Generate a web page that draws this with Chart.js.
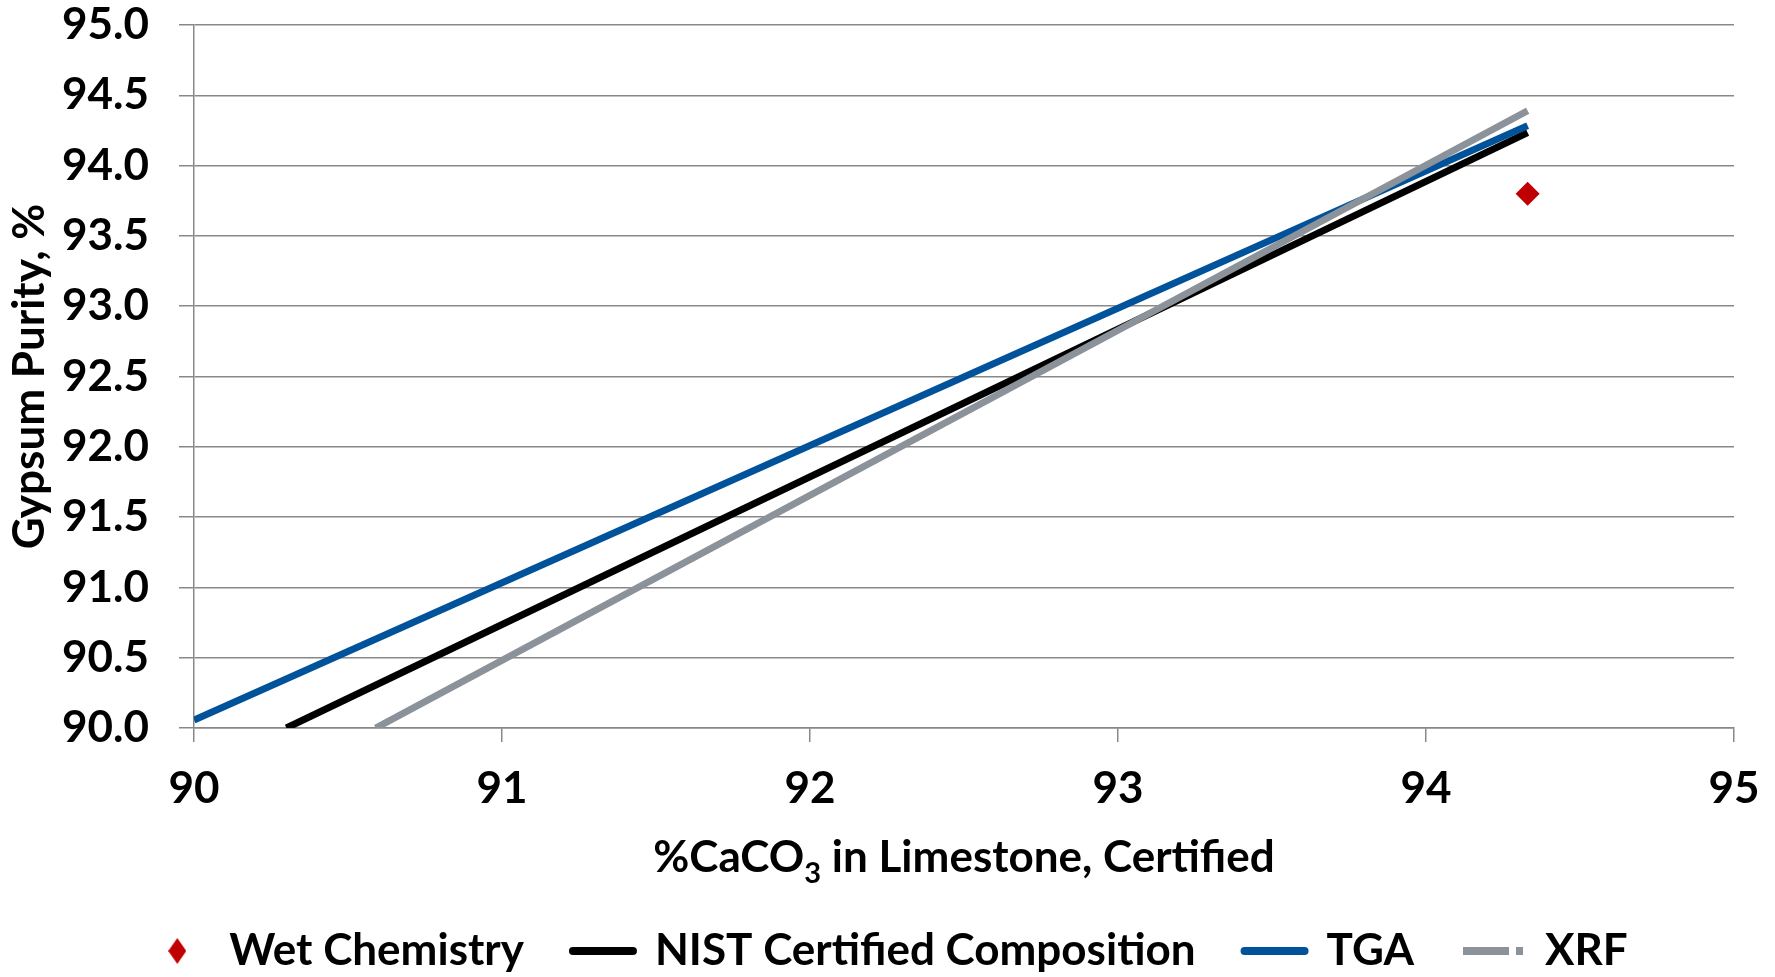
<!DOCTYPE html>
<html>
<head>
<meta charset="utf-8">
<script src="https://cdn.jsdelivr.net/npm/chart.js@4"></script>
<style>
  html, body { margin: 0; padding: 0; background: #ffffff; }
  #wrap { width: 1775px; height: 977px; position: relative; }
</style>
</head>
<body>
<div id="wrap"><canvas id="c" width="1775" height="977"></canvas></div>
<script>
// ---- data ----
const wetX = [94.33];
const wetY = [93.80];
const nistX = [90.30, 94.33];
const nistY = [90.00, 94.234];
const tgaX = [90.00, 94.33];
const tgaY = [90.057, 94.284];
const xrfX = [90.59, 94.33];
const xrfY = [90.00, 94.39];
const seriesNames = ['Wet Chemistry', 'NIST Certified Composition', 'TGA', 'XRF'];
const xTicks = [90, 91, 92, 93, 94, 95];
const yTicks = [90.0, 90.5, 91.0, 91.5, 92.0, 92.5, 93.0, 93.5, 94.0, 94.5, 95.0];
const xTitleParts = ['%CaCO', '3', ' in Limestone, Certified'];
const yTitle = 'Gypsum Purity, %';

const toPts = (xs, ys) => xs.map((x, i) => ({x: x, y: ys[i]}));

// ---- styling / layout ----
const FONT = 'Lato';
const FS = 44;
const LEG_P = 49;
const PLOT_TOP = 25, PLOT_BOTTOM = 728, CANVAS_W = 1775, CANVAS_H = 977, LEGEND_MID = 951;
const RED = '#c00000', BLACK = '#000000', BLUE = '#00529b', GRAY = '#8b9299';
const GRID = '#888888';

// diamond marker used for the legend entry of the point series
const legendDiamond = (() => {
  const c = document.createElement('canvas');
  c.width = 18; c.height = 26;
  const g = c.getContext('2d');
  g.fillStyle = RED;
  g.beginPath();
  g.moveTo(9, 0); g.lineTo(18, 13); g.lineTo(9, 26); g.lineTo(0, 13);
  g.closePath(); g.fill();
  return c;
})();

const xTitlePlugin = {
  id: 'xTitleSub',
  afterDraw(chart) {
    const ctx = chart.ctx;
    const area = chart.chartArea;
    const big = 'bold ' + FS + 'px ' + FONT;
    const small = 'bold 29px ' + FONT;
    ctx.save();
    ctx.fillStyle = '#000';
    ctx.textBaseline = 'alphabetic';
    ctx.font = big;
    const w0 = ctx.measureText(xTitleParts[0]).width;
    const w2 = ctx.measureText(xTitleParts[2]).width;
    ctx.font = small;
    const w1 = ctx.measureText(xTitleParts[1]).width;
    const total = w0 + w1 + w2;
    let x = (area.left + area.right) / 2 - total / 2;
    const base = area.bottom + 144;
    ctx.font = big; ctx.textAlign = 'left';
    ctx.fillText(xTitleParts[0], x, base); x += w0;
    ctx.font = small;
    ctx.fillText(xTitleParts[1], x, base + 11); x += w1;
    ctx.font = big;
    ctx.fillText(xTitleParts[2], x, base);
    ctx.restore();
  }
};

// place the library legend row at the reference height, centred on the page
const legendPlace = {
  id: 'legendPlace',
  afterLayout(chart) {
    const lg = chart.legend;
    if (!lg) return;
    const h = lg.height;
    const top = LEGEND_MID - LEG_P - FS / 2;
    lg.top = top; lg.bottom = top + h;
    lg.left = 0; lg.right = CANVAS_W;
  }
};

const legendOrder = [0, 3, 2, 1]; // dataset index -> legend position

new Chart(document.getElementById('c'), {
  type: 'scatter',
  data: {
    datasets: [
      { label: seriesNames[0], data: toPts(wetX, wetY), showLine: false,
        pointStyle: 'rectRot', pointRadius: 12, pointHoverRadius: 12,
        backgroundColor: RED, borderColor: RED, borderWidth: 0 },
      { label: seriesNames[3], data: toPts(xrfX, xrfY), showLine: true,
        borderColor: GRAY, backgroundColor: GRAY, borderWidth: 7, pointRadius: 0, pointHoverRadius: 0 },
      { label: seriesNames[2], data: toPts(tgaX, tgaY), showLine: true,
        borderColor: BLUE, backgroundColor: BLUE, borderWidth: 7, pointRadius: 0, pointHoverRadius: 0 },
      { label: seriesNames[1], data: toPts(nistX, nistY), showLine: true,
        borderColor: BLACK, backgroundColor: BLACK, borderWidth: 7, pointRadius: 0, pointHoverRadius: 0 }
    ]
  },
  options: {
    responsive: false,
    animation: false,
    events: [],
    layout: { padding: { left: 0, right: 41, top: PLOT_TOP, bottom: 0 } },
    plugins: {
      tooltip: { enabled: false },
      legend: {
        display: true,
        position: 'bottom',
        labels: {
          usePointStyle: true,
          pointStyleWidth: 60,
          boxHeight: 15,
          padding: LEG_P,
          color: '#000',
          font: { family: FONT, size: FS, weight: 'bold' },
          generateLabels(chart) {
            const ds = chart.data.datasets;
            const items = ds.map((d, i) => {
              const isWet = i === 0;
              const isXrf = d.label === 'XRF';
              return {
                text: d.label,
                datasetIndex: i,
                pointStyle: isWet ? legendDiamond : 'line',
                fillStyle: d.backgroundColor,
                strokeStyle: d.borderColor,
                lineWidth: isWet ? 0 : 8,
                lineDash: isXrf ? [46, 7] : [],
                lineCap: isXrf ? 'butt' : 'round',
                hidden: false,
                fontColor: '#000'
              };
            });
            return items.sort((a, b) => legendOrder[a.datasetIndex] - legendOrder[b.datasetIndex]);
          }
        }
      }
    },
    scales: {
      x: {
        type: 'linear',
        min: 90, max: 95,
        afterBuildTicks(scale) { scale.ticks = xTicks.map(v => ({value: v})); },
        afterFit(scale) {
          scale.height = CANVAS_H - PLOT_BOTTOM - (FS + LEG_P + 10);
          scale.paddingLeft = 0; scale.paddingRight = 0;
        },
        grid: { display: true, drawOnChartArea: false, drawTicks: true, tickLength: 14, color: GRID, lineWidth: 1.5 },
        border: { display: true, color: GRID, width: 1.5 },
        ticks: { color: '#000', padding: 20, font: { family: FONT, size: FS, weight: 'bold' },
                 callback: v => String(v) },
        title: { display: false }
      },
      y: {
        type: 'linear',
        min: 90, max: 95,
        afterBuildTicks(scale) { scale.ticks = yTicks.map(v => ({value: v})); },
        afterFit(scale) {
          scale.width = 194;
          scale.paddingTop = 0; scale.paddingBottom = 0;
        },
        grid: { display: true, drawOnChartArea: true, drawTicks: true, tickLength: 15, color: GRID, lineWidth: 1.5 },
        border: { display: true, color: GRID, width: 1.5 },
        ticks: { color: '#000', padding: 30, font: { family: FONT, size: FS, weight: 'bold' },
                 callback: v => Number(v).toFixed(1) },
        title: { display: true, text: yTitle, color: '#000', padding: { top: 3, bottom: 0 },
                 font: { family: FONT, size: FS, weight: 'bold' } }
      }
    }
  },
  plugins: [xTitlePlugin, legendPlace]
});
</script>
</body>
</html>
